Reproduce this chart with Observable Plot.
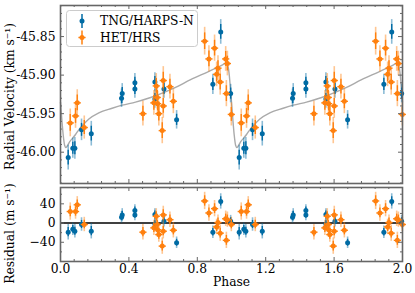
<!DOCTYPE html>
<html><head><meta charset="utf-8">
<script src="https://cdn.jsdelivr.net/npm/d3@7"></script>
<script src="https://cdn.jsdelivr.net/npm/@observablehq/plot@0.6"></script>
<style>
body{margin:0;background:#fff;}
#wrap{position:relative;width:415px;height:293px;font-family:"DejaVu Serif";}
#wrap svg{display:block;overflow:visible}
</style>
</head><body><div id="wrap"></div>
<script>
// ---- data (phase-folded, one cycle; drawn twice) ----
const tngPhase = [0.045, 0.072, 0.084, 0.123, 0.180, 0.357, 0.361, 0.435, 0.435, 0.552, 0.552, 0.605, 0.679, 0.891, 0.937, 0.995];
const tngRV    = [-46.007, -45.995, -45.995, -45.971, -45.976, -45.930, -45.924, -45.918, -45.910, -45.909, -45.931, -45.918, -45.958, -45.912, -45.844, -45.924];
const tngErr   = [16, 13, 14, 14, 16, 12, 13, 12, 12, 12, 12, 12, 12, 13, 16, 12]; // m/s
const tngRes   = [-19, -13, -17, -3, -17, 12, 17, 17, 26, 18, -2, 4, -41, -19, 45, 4];

const hetPhase = [0.057, 0.088, 0.098, 0.139, 0.482, 0.546, 0.560, 0.566, 0.568, 0.575, 0.595, 0.601, 0.601, 0.640, 0.660, 0.843, 0.868, 0.901, 0.913, 0.921, 0.934, 0.966, 0.970, 0.976, 0.999];
const hetRV    = [-45.962, -45.953, -45.936, -45.968, -45.950, -45.936, -45.914, -45.929, -45.937, -45.950, -45.972, -45.907, -45.940, -45.915, -45.934, -45.856, -45.879, -45.865, -45.899, -45.891, -45.909, -45.879, -45.924, -45.885, -45.951];
const hetErr   = [18, 16, 17, 15, 16, 16, 16, 15, 16, 16, 17, 18, 16, 16, 16, 18, 17, 17, 16, 16, 17, 16, 17, 16, 15]; // m/s
const hetRes   = [24, 24, 38, -3, -19, -10, 14, -3, -14, -24, -48, 17, -17, 7, -15, 46, 21, 30, -8, 1, -21, 9, -36, 7, -3];

const modelPhase = [0, 0.008, 0.016, 0.024, 0.032, 0.042, 0.055, 0.070, 0.088, 0.110, 0.130, 0.166, 0.224, 0.302, 0.361, 0.439, 0.527, 0.566, 0.663, 0.761, 0.859, 0.917, 0.945, 0.962, 0.975, 0.985, 0.993];
const modelRV    = [-45.935, -45.958, -45.978, -45.991, -45.994, -45.991, -45.986, -45.982, -45.977, -45.970, -45.965, -45.957, -45.949, -45.943, -45.939, -45.935, -45.929, -45.926, -45.917, -45.906, -45.896, -45.890, -45.887, -45.885, -45.886, -45.896, -45.915];

const xTicks = [0, 0.4, 0.8, 1.2, 1.6, 2.0];
const rvTicks = [-46.00, -45.95, -45.90, -45.85];
const resTicks = [-40, 0, 40];
const names = ["TNG/HARPS-N", "HET/HRS"];
const colors = ["#006BA4", "#FF800E"];

// ---- build tables ----
function rows(ph, rv, err, res, inst) {
  const out = [];
  for (let k = 0; k < 2; k++) ph.forEach((p, i) => out.push({phase: p + k, rv: rv[i], err: err[i] / 1000, res: res[i], rerr: err[i], inst}));
  return out;
}
const tng = rows(tngPhase, tngRV, tngErr, tngRes, 0);
const het = rows(hetPhase, hetRV, hetErr, hetRes, 1);
const model = [];
for (let k = 0; k < 3; k++) modelPhase.forEach((p, i) => { const ph = p + k; if (ph <= 2.001) model.push({phase: ph, rv: modelRV[i]}); });

const xMinor = d3.range(0, 26).map(i => i * 0.08).filter(v => v <= 2.0001 && Math.abs(v / 0.4 - Math.round(v / 0.4)) > 1e-6);
const rvMinor = d3.range(-4604, -4580).filter(i => i % 5 !== 0).map(i => i / 100);
const resMinor = [-60, -20, 20, 60];

const W = 415, ML = 60, MR = 13, FW = W - ML - MR;
const topH = 185, topMT = 5, topMB = 2, topFH = topH - topMT - topMB;
const botH = 108, botMT = 2, botMB = 32, botFH = botH - botMT - botMB;
const axisColor = "#666";
const FS = 12.3;

function inTicks(fh, xMaj, xMin, yMaj, yMin) {
  const s = {stroke: axisColor, strokeWidth: 1};
  return [
    Plot.ruleX(xMaj, {x: d => d, insetTop: fh - 4, ...s}),
    Plot.ruleX(xMaj, {x: d => d, insetBottom: fh - 4, ...s}),
    Plot.ruleX(xMin, {x: d => d, insetTop: fh - 2, ...s}),
    Plot.ruleX(xMin, {x: d => d, insetBottom: fh - 2, ...s}),
    Plot.ruleY(yMaj, {y: d => d, insetRight: FW - 4, ...s}),
    Plot.ruleY(yMaj, {y: d => d, insetLeft: FW - 4, ...s}),
    Plot.ruleY(yMin, {y: d => d, insetRight: FW - 2, ...s}),
    Plot.ruleY(yMin, {y: d => d, insetLeft: FW - 2, ...s})
  ];
}

const hline = {draw(ctx, size) { ctx.moveTo(-3.6, 0); ctx.lineTo(3.6, 0); }};

function pointMarks(data, yk, ek, color, isHet) {
  const marks = [
    Plot.ruleX(data, {x: "phase", y1: d => d[yk] - d[ek], y2: d => d[yk] + d[ek], stroke: color, strokeOpacity: 0.45, strokeWidth: 1.6}),
    Plot.ruleX(data, {x: "phase", y1: d => d[yk] - 0.6 * d[ek], y2: d => d[yk] + 0.6 * d[ek], stroke: color, strokeWidth: 1.4}),
  ];
  if (isHet) marks.push(Plot.dot(data, {x: "phase", y: yk, symbol: hline, stroke: color, strokeWidth: 1.4, r: 2}));
  marks.push(Plot.dot(data, {x: "phase", y: yk, r: 2.5, fill: color}));
  return marks;
}

const style = {fontFamily: "DejaVu Serif", fontSize: FS + "px", background: "transparent", color: "#000", overflow: "visible"};

const topPlot = Plot.plot({
  width: W, height: topH, marginLeft: ML, marginRight: MR, marginTop: topMT, marginBottom: topMB,
  style,
  x: {domain: [0, 2], axis: null},
  y: {domain: [-46.0406, -45.8097], axis: null},
  marks: [
    Plot.line(model, {x: "phase", y: "rv", stroke: "#aaaaaa", strokeWidth: 1.4, curve: "monotone-x"}),
    ...pointMarks(tng, "rv", "err", colors[0], false),
    ...pointMarks(het, "rv", "err", colors[1], true),
    Plot.axisY(rvTicks, {tickSize: 0, tickPadding: 5, tickFormat: d => d.toFixed(2), label: null, fontSize: FS}),
    Plot.text(["Radial Velocity (km s\u207B\u00B9)"], {text: d => d, frameAnchor: "left", textAnchor: "middle", lineAnchor: "middle", rotate: -90, dx: -50, dy: 2, fontSize: FS}),
    ...inTicks(topFH, xTicks, xMinor, rvTicks, rvMinor),
    Plot.frame({stroke: axisColor, strokeWidth: 1.6})
  ]
});

const botPlot = Plot.plot({
  width: W, height: botH, marginLeft: ML, marginRight: MR, marginTop: botMT, marginBottom: botMB,
  style,
  x: {domain: [0, 2], axis: null},
  y: {domain: [-80, 74], axis: null},
  marks: [
    Plot.ruleY([0], {stroke: "#000", strokeWidth: 1.5}),
    ...pointMarks(tng, "res", "rerr", colors[0], false),
    ...pointMarks(het, "res", "rerr", colors[1], true),
    Plot.axisX(xTicks, {tickSize: 0, tickPadding: 3, tickFormat: d => d.toFixed(1), label: null, fontSize: FS}),
    Plot.axisY(resTicks, {tickSize: 0, tickPadding: 5, tickFormat: d => d < 0 ? "\u2212" + Math.abs(d) : String(d), label: null, fontSize: FS}),
    Plot.text(["Phase"], {text: d => d, frameAnchor: "bottom", dy: 24, fontSize: FS}),
    Plot.text(["Residual (m s\u207B\u00B9)"], {text: d => d, frameAnchor: "left", textAnchor: "middle", lineAnchor: "middle", rotate: -90, dx: -50, dy: 9, fontSize: FS}),
    ...inTicks(botFH, xTicks, xMinor, resTicks, resMinor),
    Plot.frame({stroke: axisColor, strokeWidth: 1.6})
  ]
});

const wrap = document.getElementById("wrap");
wrap.appendChild(topPlot);
wrap.appendChild(botPlot);

// ---- legend ----
const leg = d3.select(wrap).append("svg")
  .attr("width", W).attr("height", 60)
  .style("position", "absolute").style("left", "0px").style("top", "0px");
leg.append("rect").attr("x", 66.5).attr("y", 10.5).attr("width", 131).attr("height", 36).attr("rx", 3)
  .attr("fill", "#fff").attr("fill-opacity", 0.8).attr("stroke", "#cccccc");
names.forEach((name, i) => {
  const cy = i === 0 ? 21 : 37.5;
  const g = leg.append("g");
  g.append("line").attr("x1", 82).attr("x2", 82).attr("y1", cy - 7).attr("y2", cy + 7).attr("stroke", colors[i]).attr("stroke-width", 1.5);
  if (i === 1) g.append("line").attr("x1", 78.4).attr("x2", 85.6).attr("y1", cy).attr("y2", cy).attr("stroke", colors[i]).attr("stroke-width", 1.4);
  g.append("circle").attr("cx", 82).attr("cy", cy).attr("r", 2.5).attr("fill", colors[i]);
  g.append("text").attr("x", 100).attr("y", cy + 4.3).attr("font-family", "DejaVu Serif").attr("font-size", 12.3).text(name);
});
</script></body></html>
